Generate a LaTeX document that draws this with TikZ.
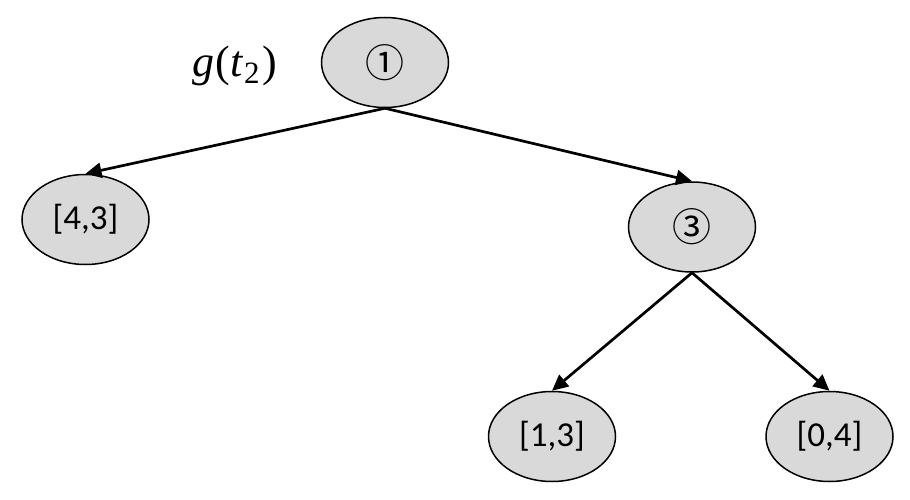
\documentclass[tikz,border=0pt]{standalone}
\usepackage{fontspec}
\setmainfont{Carlito}
\newfontfamily\circfont{Noto Sans CJK SC}
\newfontfamily\serifup{Liberation Serif}
\usetikzlibrary{shapes.geometric,arrows.meta}
\definecolor{cellgray}{HTML}{D9D9D9}
\begin{document}
\begin{tikzpicture}[x=1pt,y=-1pt,
  ell/.style={ellipse, draw, line width=1.5pt, fill=cellgray, minimum width=127pt, minimum height=90pt, inner sep=0pt, font=\fontsize{35}{40}\selectfont},
  circ/.style={font=\circfont\fontsize{39}{42}\selectfont},
  conn/.style={line width=2.7pt, -{Triangle[length=16pt,width=15pt]}}]
\useasboundingbox (0,0) rectangle (910,500);
\node[ell, circ] (r) at (385,62.5) {①};
\node[ell] (a) at (85.5,219.5) {[4,3]};
\node[ell, circ] (b) at (692,227) {③};
\node[ell] (c) at (552,436.5) {[1,3]};
\node[ell] (d) at (829.5,436.5) {[0,4]};
\node[inner sep=0pt, anchor=base west] (g) at (192,77) {\fontsize{44}{48}\serifup{\itshape g}\kern1pt(\kern1pt{\itshape t}\kern1pt\raisebox{-7pt}{\fontsize{31}{33}\selectfont 2}\kern3pt)};
\draw[conn] (r.south) -- (a.north);
\draw[conn] (r.south) -- (b.north);
\draw[conn] (b.south) -- (c.north);
\draw[conn] (b.south) -- (d.north);
\end{tikzpicture}
\end{document}
